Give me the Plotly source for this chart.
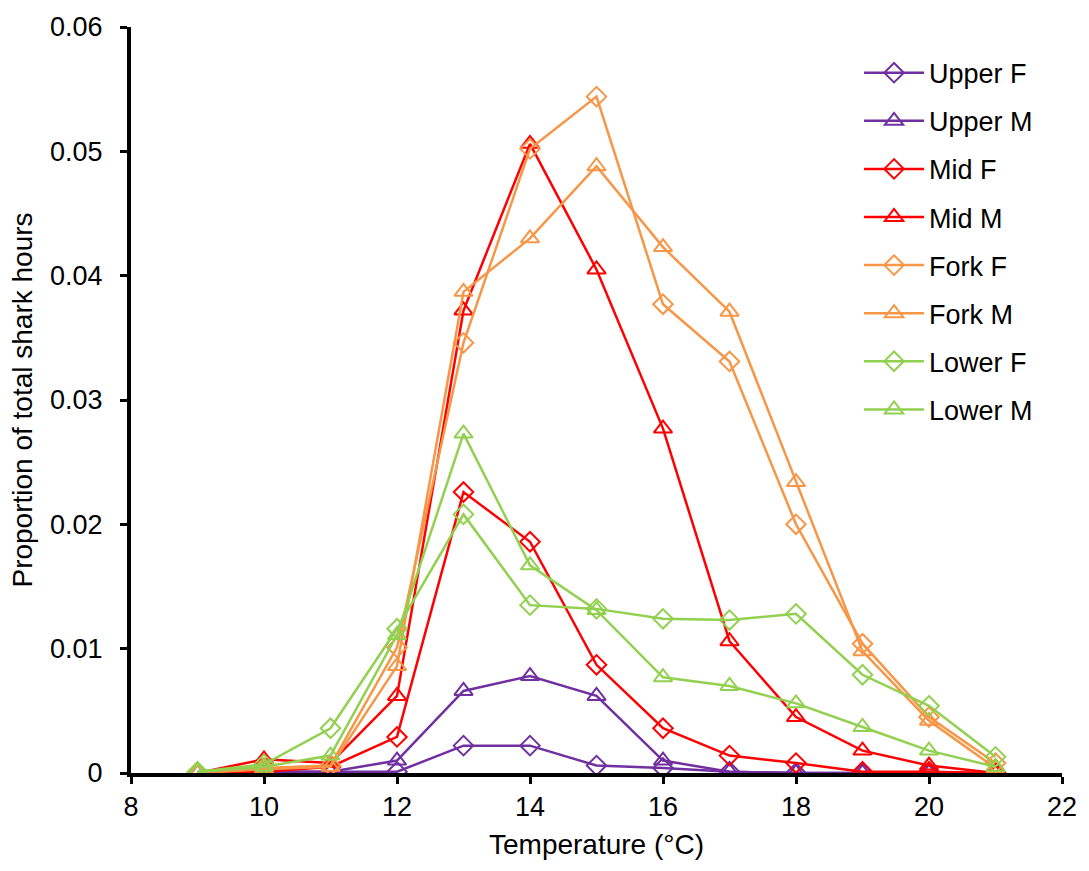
import plotly.graph_objects as go

temperature = [9, 10, 11, 12, 13, 14, 15, 16, 17, 18, 19, 20, 21]

upper_f = [0.0000, 0.0001, 0.0001, 0.0001, 0.0022, 0.0022, 0.0006, 0.0004, 0.0001, 0.0000, 0.0000, 0.0000, 0.0000]
upper_m = [0.0000, 0.0001, 0.0001, 0.0010, 0.0066, 0.0078, 0.0062, 0.0010, 0.0001, 0.0000, 0.0000, 0.0000, 0.0000]
mid_f = [0.0000, 0.0001, 0.0005, 0.0029, 0.0226, 0.0186, 0.0087, 0.0036, 0.0014, 0.0008, 0.0001, 0.0001, 0.0000]
mid_m = [0.0000, 0.0011, 0.0008, 0.0062, 0.0372, 0.0506, 0.0405, 0.0277, 0.0106, 0.0045, 0.0018, 0.0006, 0.0000]
fork_f = [0.0000, 0.0004, 0.0006, 0.0101, 0.0346, 0.0502, 0.0544, 0.0377, 0.0331, 0.0200, 0.0104, 0.0045, 0.0008]
fork_m = [0.0000, 0.0003, 0.0005, 0.0086, 0.0387, 0.0430, 0.0488, 0.0423, 0.0371, 0.0234, 0.0098, 0.0042, 0.0004]
lower_f = [0.0001, 0.0007, 0.0036, 0.0116, 0.0208, 0.0135, 0.0132, 0.0124, 0.0123, 0.0128, 0.0079, 0.0054, 0.0013]
lower_m = [0.0001, 0.0005, 0.0014, 0.0111, 0.0273, 0.0167, 0.0131, 0.0077, 0.0070, 0.0056, 0.0037, 0.0018, 0.0005]

series = [
    ("Upper F", upper_f, "#7030A0", "diamond-open"),
    ("Upper M", upper_m, "#7030A0", "triangle-up-open"),
    ("Mid F", mid_f, "#FF0000", "diamond-open"),
    ("Mid M", mid_m, "#FF0000", "triangle-up-open"),
    ("Fork F", fork_f, "#F79646", "diamond-open"),
    ("Fork M", fork_m, "#F79646", "triangle-up-open"),
    ("Lower F", lower_f, "#92D050", "diamond-open"),
    ("Lower M", lower_m, "#92D050", "triangle-up-open"),
]

fig = go.Figure()
for name, values, color, symbol in series:
    fig.add_trace(go.Scatter(
        x=temperature, y=values, name=name, legendgroup=name,
        mode="lines+markers",
        line=dict(color=color, width=2.5),
        marker=dict(symbol=symbol, size=15 if "diamond" in symbol else 16,
                    color=color, line=dict(color=color, width=2)),
    ))

font_family = "Liberation Sans, Arial, sans-serif"

fig.update_layout(
    width=1089, height=871,
    margin=dict(l=131, r=23, t=23, b=98),
    plot_bgcolor="white", paper_bgcolor="white",
    font=dict(family=font_family, color="black"),
    showlegend=True,
    legend=dict(
        x=0.782, y=0.971, xanchor="left", yanchor="top",
        font=dict(size=27, family=font_family, color="black"),
        tracegroupgap=10, itemwidth=60,
        bgcolor="rgba(0,0,0,0)",
    ),
    xaxis=dict(
        range=[8, 22], tickvals=[8, 10, 12, 14, 16, 18, 20, 22],
        showline=True, linecolor="black", linewidth=4,
        ticks="outside", ticklen=7, tickwidth=3, tickcolor="black",
        showgrid=False, zeroline=False,
        tickfont=dict(size=27, family=font_family),
        title=dict(text="Temperature (°C)", font=dict(size=28, family=font_family), standoff=14),
    ),
    yaxis=dict(
        range=[0, 0.06], tickvals=[0, 0.01, 0.02, 0.03, 0.04, 0.05, 0.06],
        ticktext=["0", "0.01", "0.02", "0.03", "0.04", "0.05", "0.06"],
        showline=True, linecolor="black", linewidth=4,
        ticks="outside", ticklen=7, tickwidth=3, tickcolor="black",
        ticklabelstandoff=12,
        showgrid=False, zeroline=False,
        tickfont=dict(size=27, family=font_family),
        title=dict(text="Proportion of total shark hours", font=dict(size=28, family=font_family), standoff=10),
    ),
)

fig.write_html("out.html")
